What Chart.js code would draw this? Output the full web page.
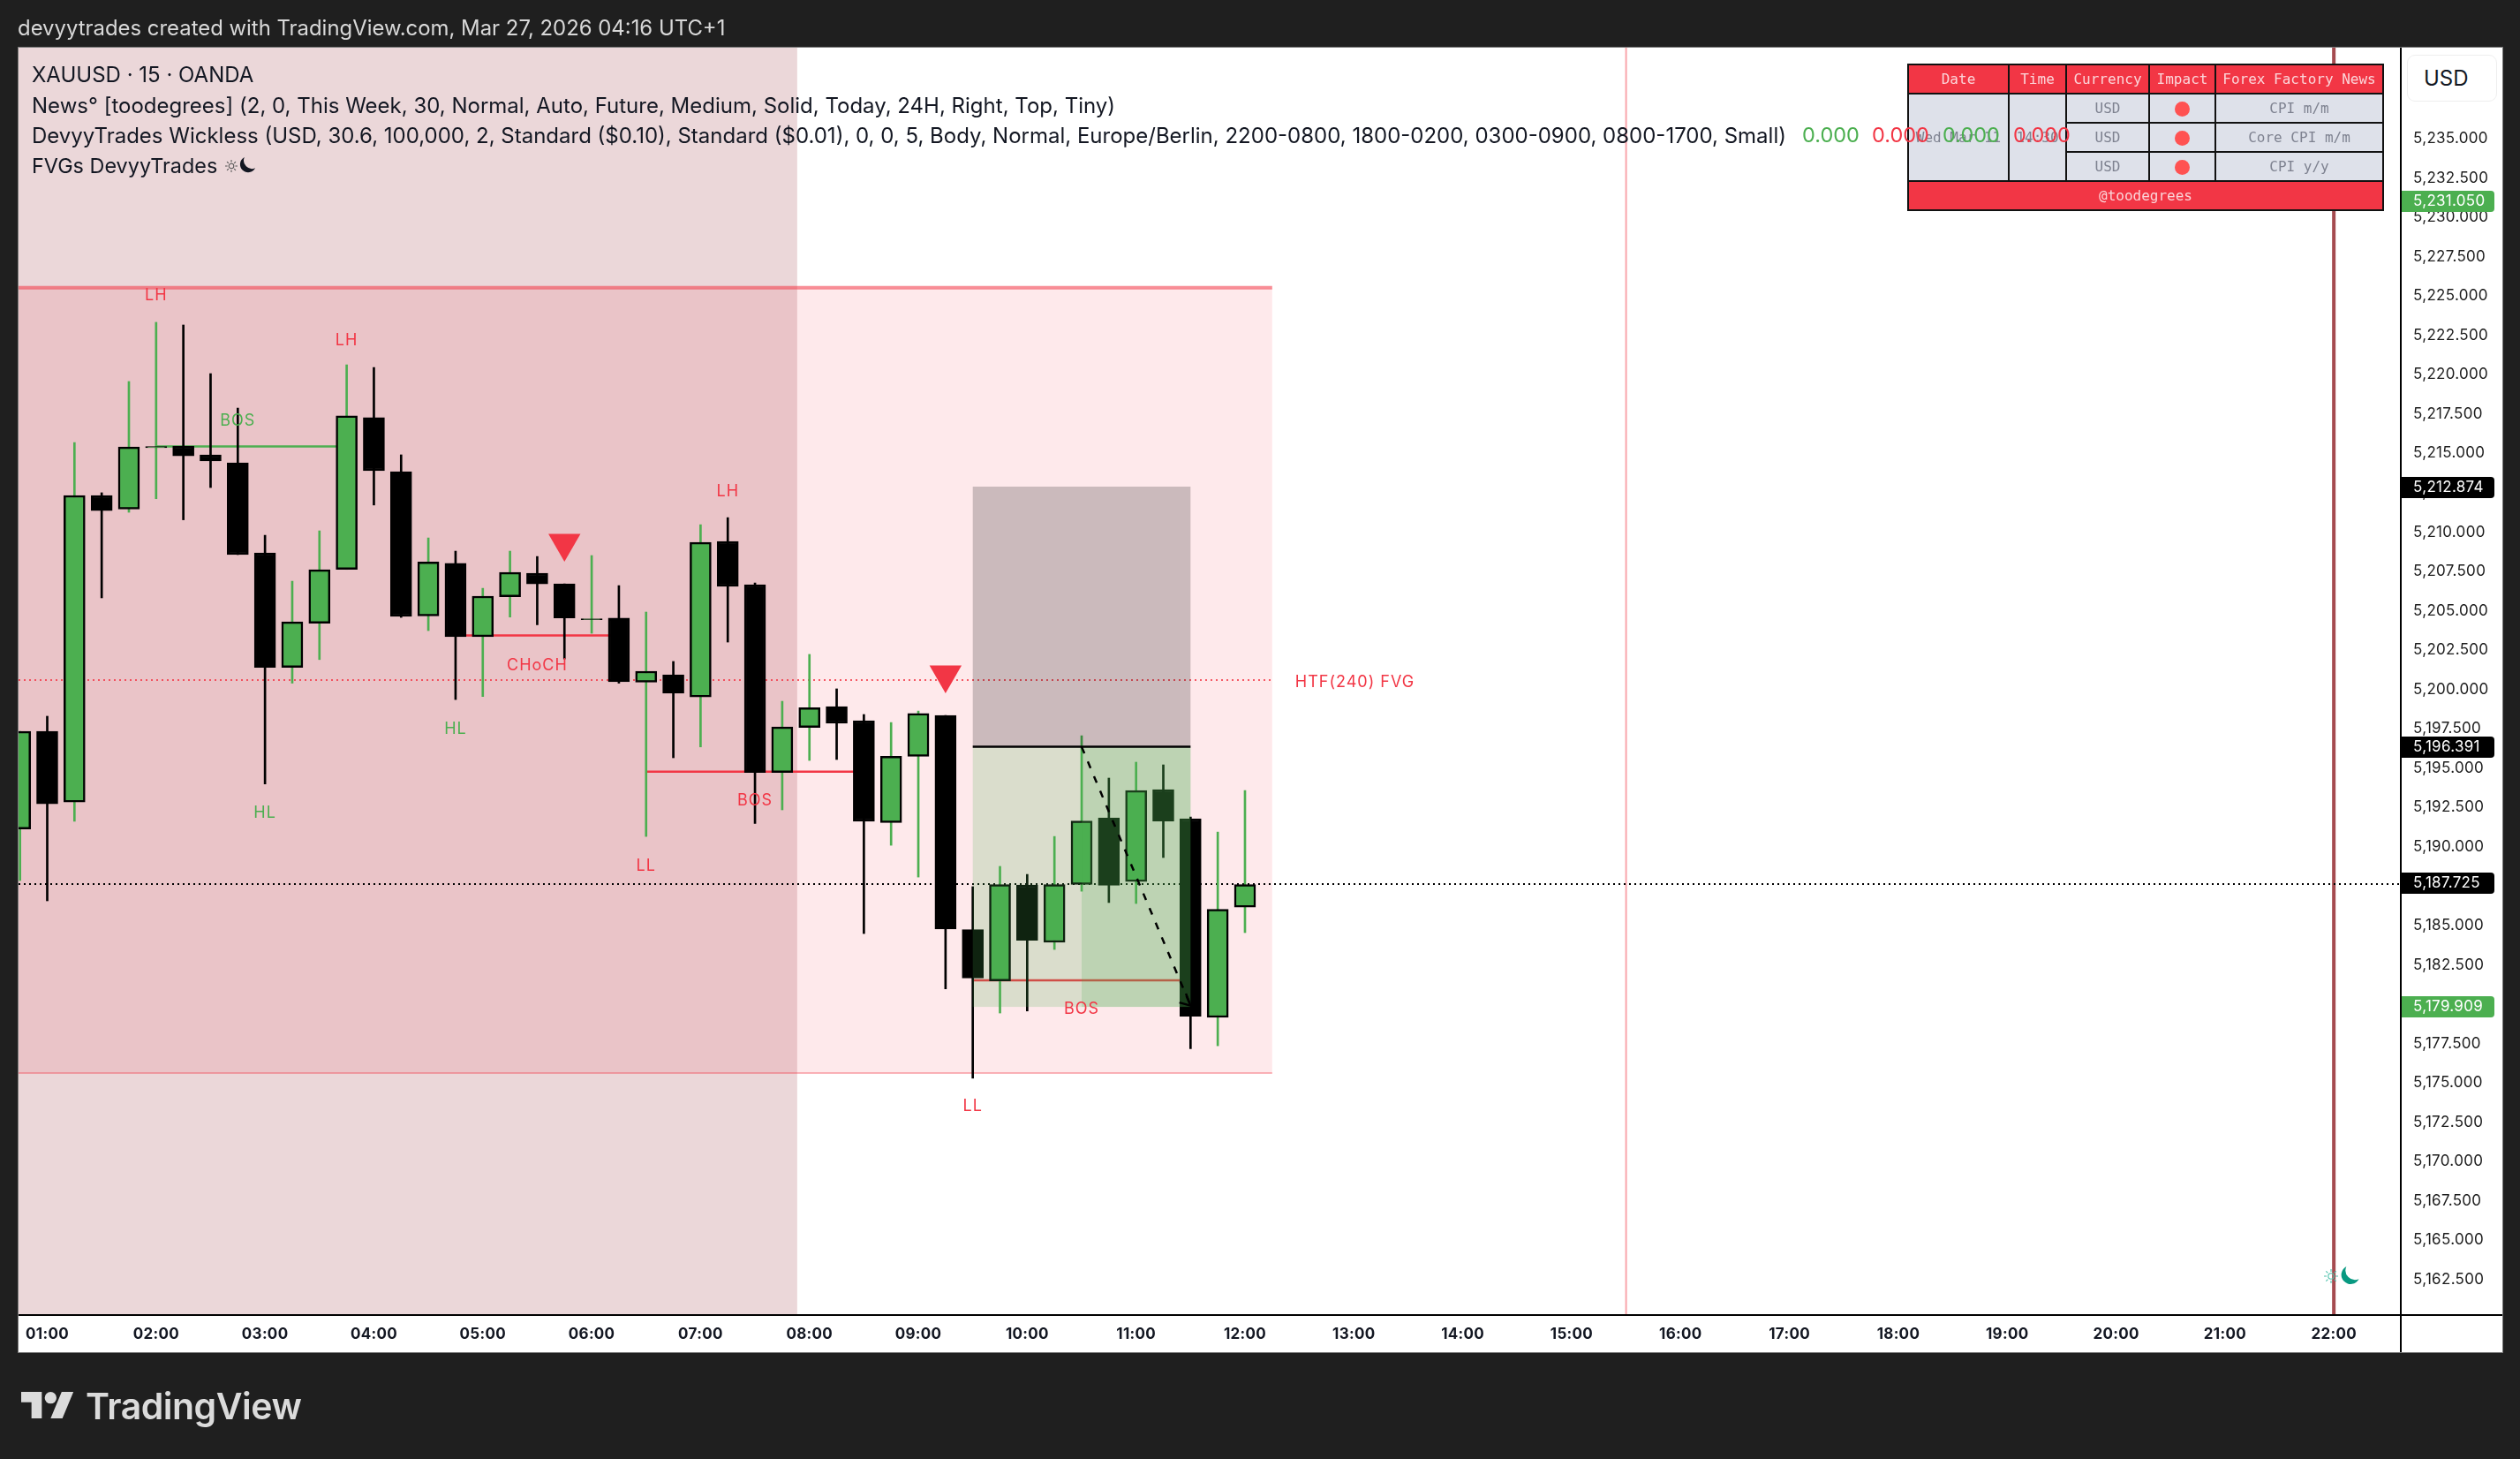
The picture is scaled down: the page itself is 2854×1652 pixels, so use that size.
<!DOCTYPE html>
<html>
<head>
<meta charset="utf-8">
<title>XAUUSD 15 OANDA</title>
<script src="https://cdn.jsdelivr.net/npm/chart.js@4"></script>
<style>
html,body{margin:0;padding:0;background:#1f1f1f;width:2854px;height:1652px;overflow:hidden}
canvas{position:absolute;left:0;top:0}
.abs{position:absolute;white-space:nowrap;font-family:Inter,sans-serif}
#hdr{left:20px;top:17px;font-size:23.9px;line-height:30px;color:#d8d8d8}
.leg{left:36px;font-size:24px;line-height:30px;color:#131722;z-index:5}
.val{font-size:23.5px;line-height:30px;top:138px;z-index:5}
#news{position:absolute;left:2160px;top:72px;width:538px;height:167px;border-collapse:collapse;table-layout:fixed;
 font-family:"DejaVu Sans Mono",monospace;font-size:16px;z-index:3;border:2px solid #111}
#news td{border:2px solid #111;text-align:center;padding:0;height:31px;background:#dee1ea;color:#7e8290;overflow:hidden;white-space:nowrap}
#news td.h{background:#f23645;color:#fbd5d9}
.dot{display:inline-block;width:17px;height:17px;border-radius:50%;background:#ff5252;vertical-align:middle}
#usd{left:2726px;top:62px;width:82px;height:51px;padding-left:18px;border:1px solid #eeeeee;border-radius:9px;font-size:24px;line-height:51px;text-align:left;color:#131722;background:#fff;box-sizing:content-box;z-index:4}
#tvtext{left:97px;top:1568px;font-size:41px;line-height:48px;font-weight:600;color:#dbdbdb;letter-spacing:-0.5px}
</style>
</head>
<body>
<canvas id="c" width="2854" height="1652"></canvas>
<div class="abs" id="hdr">devyytrades created with TradingView.com, Mar 27, 2026 04:16 UTC+1</div>
<div class="abs leg" style="top:70px">XAUUSD · 15 · OANDA</div>
<div class="abs leg" style="top:105px">News° [toodegrees] (2, 0, This Week, 30, Normal, Auto, Future, Medium, Solid, Today, 24H, Right, Top, Tiny)</div>
<div class="abs leg" style="top:139px">DevyyTrades Wickless (USD, 30.6, 100,000, 2, Standard ($0.10), Standard ($0.01), 0, 0, 5, Body, Normal, Europe/Berlin, 2200-0800, 1800-0200, 0300-0900, 0800-1700, Small)</div>
<div class="abs leg" style="top:173px;font-size:23.4px">FVGs DevyyTrades</div>
<svg class="abs" style="left:255px;top:181px;z-index:5" width="14" height="14" viewBox="0 0 16 16"><g stroke="#555" stroke-width="1.2" fill="none"><circle cx="8" cy="8" r="3.2"/><path d="M8 0v3M8 13v3M0 8h3M13 8h3M2.3 2.3l2.1 2.1M11.6 11.6l2.1 2.1M2.3 13.7l2.1-2.1M11.6 4.4l2.1-2.1"/></g></svg>
<svg class="abs" style="left:270px;top:178px;z-index:5" width="20" height="19" viewBox="0 0 24 24"><path d="M8 0A11.5 11.5 0 1 0 23.5 15.5A11.8 11.8 0 0 1 8 0Z" fill="#131722"/></svg>
<div class="abs val" style="left:2041px;color:#4caf50">0.000</div>
<div class="abs val" style="left:2120px;color:#f23645">0.000</div>
<div class="abs val" style="left:2200px;color:#4caf50">0.000</div>
<div class="abs val" style="left:2280px;color:#f23645">0.000</div>
<table id="news">
<colgroup><col style="width:114px"><col style="width:65px"><col style="width:94px"><col style="width:75px"><col style="width:190px"></colgroup>
<tr><td class="h">Date</td><td class="h">Time</td><td class="h">Currency</td><td class="h">Impact</td><td class="h">Forex Factory News</td></tr>
<tr><td rowspan="3">Wed Mar 11</td><td rowspan="3">14:30</td><td>USD</td><td><span class="dot"></span></td><td>CPI m/m</td></tr>
<tr><td>USD</td><td><span class="dot"></span></td><td>Core CPI m/m</td></tr>
<tr><td>USD</td><td><span class="dot"></span></td><td>CPI y/y</td></tr>
<tr><td class="h" colspan="5">@toodegrees</td></tr>
</table>
<div class="abs" id="usd">USD</div>
<svg class="abs" style="left:2632px;top:1437px;z-index:4" width="16" height="16" viewBox="0 0 16 16"><g stroke="#4cc0aa" stroke-width="1.1" fill="none"><circle cx="8" cy="8" r="3.2"/><path d="M8 0v3M8 13v3M0 8h3M13 8h3M2.3 2.3l2.1 2.1M11.6 11.6l2.1 2.1M2.3 13.7l2.1-2.1M11.6 4.4l2.1-2.1"/></g></svg>
<svg class="abs" style="left:2650px;top:1434px;z-index:4" width="22" height="22" viewBox="0 0 24 24"><path d="M8 0A11.5 11.5 0 1 0 23.5 15.5A11.8 11.8 0 0 1 8 0Z" fill="#089981"/></svg>
<svg class="abs" style="left:24px;top:1569px" width="60" height="44" viewBox="0 0 36 26"><g fill="#dbdbdb"><path d="M14 22H7V11H0V4h14v18ZM28 22h-8l7.5-18h8L28 22Z"/><circle cx="20" cy="8" r="4"/></g></svg>
<div class="abs" id="tvtext">TradingView</div>
<script>
// --- data ---
const categories = ['00:45','01:00','01:15','01:30','01:45','02:00','02:15','02:30','02:45','03:00','03:15','03:30','03:45','04:00','04:15','04:30','04:45','05:00','05:15','05:30','05:45','06:00','06:15','06:30','06:45','07:00','07:15','07:30','07:45','08:00','08:15','08:30','08:45','09:00','09:15','09:30','09:45','10:00','10:15','10:30','10:45','11:00','11:15','11:30','11:45','12:00'];
const firstBarIndex = -1;
const opens  = [5191.14,5197.34,5192.85,5212.33,5211.46,5215.36,5215.47,5214.91,5214.40,5208.68,5201.40,5204.21,5207.63,5217.27,5213.84,5204.67,5208.01,5203.36,5205.89,5207.39,5206.71,5204.44,5204.53,5200.46,5200.93,5199.53,5209.41,5206.66,5194.73,5197.59,5198.91,5198.02,5191.54,5195.75,5198.35,5184.74,5181.48,5187.58,5183.93,5187.61,5191.84,5187.80,5193.64,5191.79,5179.16,5186.17];
const highs  = [5197.34,5198.30,5215.69,5212.50,5219.57,5223.33,5223.16,5220.07,5217.88,5209.80,5206.88,5210.08,5220.63,5220.46,5214.91,5209.63,5208.79,5206.43,5208.79,5208.45,5206.71,5208.51,5206.60,5204.92,5201.78,5210.47,5210.92,5206.77,5199.25,5202.23,5200.04,5198.41,5197.90,5198.63,5198.35,5187.47,5188.76,5188.25,5190.66,5197.06,5194.37,5195.38,5195.21,5191.90,5190.94,5193.58];
const lows   = [5187.86,5186.57,5191.62,5205.82,5211.26,5212.12,5210.78,5212.83,5208.57,5194.00,5200.40,5201.90,5207.63,5211.72,5204.58,5203.74,5199.36,5199.55,5204.60,5204.11,5201.94,5203.57,5200.40,5190.66,5195.66,5196.35,5203.01,5191.48,5192.35,5195.49,5195.55,5184.49,5190.10,5188.08,5180.98,5175.30,5179.44,5179.57,5183.48,5187.18,5186.46,5186.40,5189.32,5177.17,5177.36,5184.55];
const closes = [5197.34,5192.74,5212.33,5211.37,5215.41,5215.44,5214.85,5214.52,5208.57,5201.40,5204.30,5207.61,5217.39,5213.90,5204.64,5208.10,5203.36,5205.93,5207.44,5206.71,5204.55,5204.50,5200.49,5201.16,5199.76,5209.35,5206.55,5194.73,5197.62,5198.84,5197.85,5191.62,5195.75,5198.47,5184.78,5181.66,5187.61,5184.06,5187.61,5191.64,5187.55,5193.58,5191.64,5179.23,5186.03,5187.61];
const hourLabels = ['01:00','02:00','03:00','04:00','05:00','06:00','07:00','08:00','09:00','10:00','11:00','12:00','13:00','14:00','15:00','16:00','17:00','18:00','19:00','20:00','21:00','22:00'];
const hourTickIndex = [0,4,8,12,16,20,24,28,32,36,40,44,48,52,56,60,64,68,72,76,80,84];
const priceTicks = [5162.5,5165,5167.5,5170,5172.5,5175,5177.5,5180,5182.5,5185,5187.5,5190,5192.5,5195,5197.5,5200,5202.5,5205,5207.5,5210,5212.5,5215,5217.5,5220,5222.5,5225,5227.5,5230,5232.5,5235];
const xRange = [-1.054, 86.46];
const yRange = [5160.25, 5240.78];

const sessionBoxX = [-1.054, 27.55];
const fvgBoxX = [-1.054, 45];
const fvgPrices = [5225.53, 5200.60, 5175.62];
const positionX = [34, 38, 42];
const positionPrices = [5212.89, 5196.36, 5179.83];
const lastLinePrice = 5187.63;
const nowLines = [58, 84];

const bosGreen = {x:[4,11], y:5215.44};
const chochLine = {x:[15,21], y:5203.43};
const bosRed1 = {x:[22,30], y:5194.78};
const bosRed2 = {x:[34,42], y:5181.52};

const arrowX = [38, 42];
const arrowY = [5196.35, 5179.91];
const arrowHeadX = [41.59, 42, 41.83];
const arrowHeadY = [5180.11, 5179.91, 5180.68];

const markerX = [19, 33];
const markerY = [5209.30, 5200.93];

const labelTexts = ['LH','LH','LH','HL','HL','LL','LL','BOS','CHoCH','BOS','BOS'];
const labelX = [4,11,25,8,15,22,34,7,18,26,38];
const labelY = [5225.12,5222.26,5212.66,5192.24,5197.59,5188.87,5173.62,5217.15,5201.66,5193.02,5179.78];
const labelKinds = ['r','r','r','g','g','r','r','g','r','r','r'];
const fvgLabel = {text:'HTF(240) FVG', x:48.04, y:5200.54};

const tagValues = [5231.05,5212.874,5196.391,5187.725,5179.909];
const tagKinds = ['g','k','k','k','g'];

// --- colours ---
const RED='#f23645', GREEN='#4caf50', BLACK='#000000';
const fmt = v => v.toLocaleString('en-US',{minimumFractionDigits:3,maximumFractionDigits:3});
const isUp = k => closes[k] >= opens[k];

function hline(label, xs, y, color, width, order, dash){
  return {type:'line', label, data:[{x:xs[0],y},{x:xs[1],y}], borderColor:color, borderWidth:width, borderDash:dash||[], pointRadius:0, order, fill:false, tension:0};
}
function vline(label, x, color, width, order){
  return {type:'line', label, data:[{x,y:yRange[0]},{x,y:yRange[1]}], borderColor:color, borderWidth:width, pointRadius:0, order, fill:false};
}
const entrySet = hline('Entry',[positionX[0],positionX[2]],positionPrices[1],'#000',2.5,3);

const datasets = [
  vline('Session', nowLines[0], '#f9a5ab', 2, 60),
  vline('Now', nowLines[1], '#a54b50', 4, 60),
  hline('FVG top',[xRange[0],fvgBoxX[1]],fvgPrices[0],'rgba(242,54,69,0.55)',4,50),
  hline('FVG bottom',[xRange[0],fvgBoxX[1]],fvgPrices[2],'rgba(242,54,69,0.35)',2,50),
  hline('FVG mid',[xRange[0],fvgBoxX[1]],fvgPrices[1],'rgba(242,54,69,0.8)',2,50,[2,4]),
  hline('Last',[xRange[0],xRange[1]],lastLinePrice,'#000',2,50,[2,4]),
  hline('BOS up',bosGreen.x,bosGreen.y,GREEN,2.5,40),
  hline('CHoCH',chochLine.x,chochLine.y,RED,2.5,40),
  hline('BOS down 1',bosRed1.x,bosRed1.y,RED,2.5,40),
  hline('BOS down 2',bosRed2.x,bosRed2.y,RED,2.5,40),
  {type:'bar', label:'Wicks', data:categories.map((c,k)=>({x:k+firstBarIndex,y:[lows[k],highs[k]]})),
   backgroundColor:categories.map((c,k)=>isUp(k)?GREEN:BLACK), barThickness:2, grouped:false, order:20},
  {type:'bar', label:'Bodies', data:categories.map((c,k)=>({x:k+firstBarIndex,y:[opens[k],closes[k]]})),
   backgroundColor:categories.map((c,k)=>isUp(k)?GREEN:BLACK), borderColor:BLACK, borderWidth:2.5, borderSkipped:false, barThickness:24, grouped:false, order:10},
  {type:'scatter', label:'Signals', data:markerX.map((x,k)=>({x,y:markerY[k]})), pointStyle:'triangle', rotation:180, pointRadius:21, backgroundColor:RED, borderWidth:0, showLine:false, order:5},
  entrySet,
  {type:'line', label:'Arrow', data:arrowX.map((x,k)=>({x,y:arrowY[k]})), borderColor:'#000', borderWidth:2.5, borderDash:[8,10], pointRadius:0, order:2},
  {type:'line', label:'Arrow head', data:arrowHeadX.map((x,k)=>({x,y:arrowHeadY[k]})), borderColor:'#000', borderWidth:2.5, pointRadius:0, order:1}
];
const entryIndex = datasets.indexOf(entrySet);

const zonesPlugin = {
  id:'zones',
  beforeDraw(chart){
    const c=chart.ctx;
    c.letterSpacing='0.3px';
    c.save();
    c.fillStyle='#1f1f1f'; c.fillRect(0,0,2854,1652);
    c.fillStyle='#ffffff'; c.fillRect(20,53,2814,1478);
    c.strokeStyle='#7b7b7b'; c.lineWidth=1; c.strokeRect(20.5,53.5,2814,1478);
    c.restore();
  },
  beforeDatasetsDraw(chart){
    const c=chart.ctx, X=chart.scales.x, Y=chart.scales.y;
    const rect=(x0,x1,p0,p1,col)=>{c.fillStyle=col;c.fillRect(X.getPixelForValue(x0),Y.getPixelForValue(p0),X.getPixelForValue(x1)-X.getPixelForValue(x0),Y.getPixelForValue(p1)-Y.getPixelForValue(p0));};
    c.save();
    rect(fvgBoxX[0],fvgBoxX[1],fvgPrices[0],fvgPrices[2],'rgba(242,54,69,0.11)');
    rect(sessionBoxX[0],sessionBoxX[1],yRange[1],yRange[0],'rgba(130,5,17,0.16)');
    c.restore();
  },
  beforeDatasetDraw(chart,args){
    if(args.index!==entryIndex) return;
    const c=chart.ctx, X=chart.scales.x, Y=chart.scales.y;
    const rect=(x0,x1,p0,p1,col)=>{c.fillStyle=col;c.fillRect(X.getPixelForValue(x0),Y.getPixelForValue(p0),X.getPixelForValue(x1)-X.getPixelForValue(x0),Y.getPixelForValue(p1)-Y.getPixelForValue(p0));};
    c.save();
    rect(positionX[0],positionX[2],positionPrices[0],positionPrices[1],'rgba(0,0,0,0.2)');
    rect(positionX[0],positionX[2],positionPrices[1],positionPrices[2],'rgba(76,175,80,0.2)');
    rect(positionX[1],positionX[2],positionPrices[1],positionPrices[2],'rgba(76,175,80,0.2)');
    c.restore();
  },
  afterDatasetsDraw(chart){
    const c=chart.ctx, X=chart.scales.x, Y=chart.scales.y;
    c.save();
    c.letterSpacing='1px';
    c.font='18px Inter, sans-serif'; c.textAlign='center'; c.textBaseline='middle';
    labelTexts.forEach((t,k)=>{
      c.fillStyle=labelKinds[k]==='g'?GREEN:RED;
      c.fillText(t,X.getPixelForValue(labelX[k]),Y.getPixelForValue(labelY[k])+2);
    });
    c.fillStyle=RED;
    c.fillText(fvgLabel.text,X.getPixelForValue(fvgLabel.x),Y.getPixelForValue(fvgLabel.y)+2);
    c.restore();
  },
  afterDraw(chart){
    const c=chart.ctx, Y=chart.scales.y;
    c.save();
    c.fillStyle='#000';
    c.fillRect(2718,54,2,1477);
    c.fillRect(21,1488,2813,2);
    c.font='17px Inter, sans-serif'; c.textAlign='left'; c.textBaseline='middle';
    tagValues.forEach((v,k)=>{
      const y=Math.round(Y.getPixelForValue(v))+1;
      c.fillStyle=tagKinds[k]==='g'?GREEN:BLACK;
      c.beginPath(); c.roundRect(2720,y-12,105,24,[0,4,4,0]); c.fill();
      c.fillStyle='#ffffff';
      c.fillText(fmt(v),2733,y);
    });
    c.restore();
  }
};

Chart.defaults.font.family='Inter, sans-serif';
new Chart(document.getElementById('c'),{
  type:'bar',
  data:{datasets},
  plugins:[zonesPlugin],
  options:{
    responsive:false, animation:false, devicePixelRatio:1,
    layout:{padding:{left:21,top:54,right:20,bottom:121}},
    plugins:{legend:{display:false},tooltip:{enabled:false}},
    scales:{
      x:{type:'linear',min:xRange[0],max:xRange[1],offset:false,
         grid:{display:false,drawTicks:false},border:{display:false},
         afterBuildTicks(s){s.ticks=hourTickIndex.map(v=>({value:v}));},
         afterFit(s){s.height=42;},
         ticks:{autoSkip:false,maxRotation:0,minRotation:0,padding:12,color:'#131722',
                font:{size:17,weight:'700'},
                callback(v){return hourLabels[hourTickIndex.indexOf(v)];}}},
      y:{type:'linear',position:'right',min:yRange[0],max:yRange[1],
         grid:{display:false,drawTicks:false},border:{display:false},
         afterBuildTicks(s){s.ticks=priceTicks.map(v=>({value:v}));},
         afterFit(s){s.width=115;},
         ticks:{autoSkip:false,padding:14,color:'#1c1c1c',font:{size:17},
                callback(v){return fmt(v);}}}
    }
  }
});
</script>
</body>
</html>
